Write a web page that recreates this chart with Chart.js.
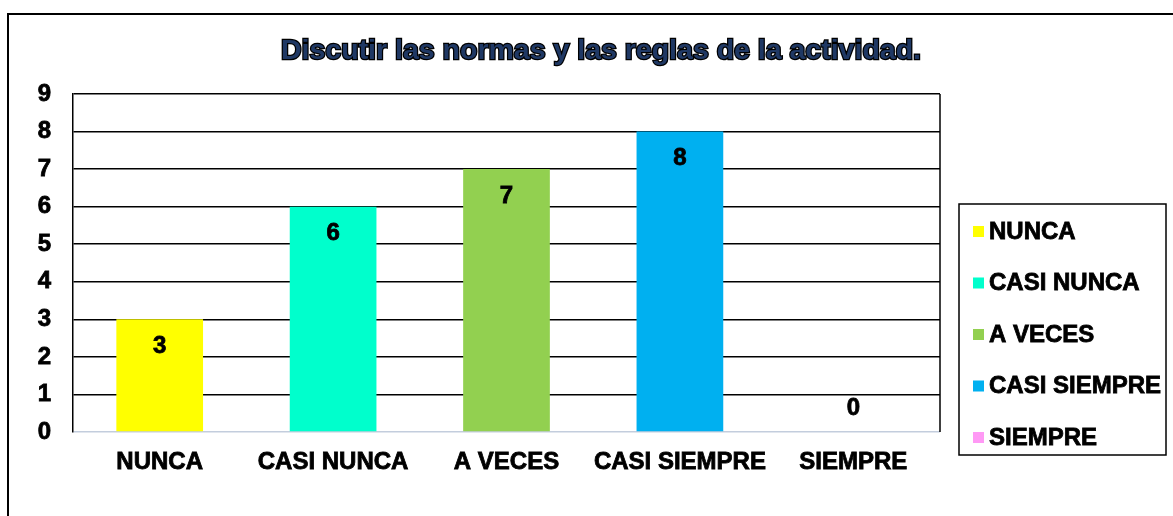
<!DOCTYPE html>
<html>
<head>
<meta charset="utf-8">
<script src="https://cdn.jsdelivr.net/npm/chart.js@4"></script>
<style>
  html, body { margin: 0; padding: 0; background: #fff; }
  #chart { display: block; }
</style>
</head>
<body>
<canvas id="chart" width="1173" height="516"></canvas>
<script>
// data
const chartTitle = 'Discutir las normas y las reglas de la actividad.';
const categories = ['NUNCA', 'CASI NUNCA', 'A VECES', 'CASI SIEMPRE', 'SIEMPRE'];
const values = [3, 6, 7, 8, 0];
const barColors = ['#FFFF00', '#00FFCC', '#92D050', '#00B0F0', '#FF99F5'];
const yMax = 9;

const FONT = '"Liberation Sans", Arial, sans-serif';

// frame, title, legend, value labels
const decorPlugin = {
  id: 'decor',
  beforeDraw(chart) {
    const ctx = chart.ctx;
    ctx.save();
    ctx.fillStyle = '#fff';
    ctx.fillRect(0, 0, chart.width, chart.height);
    ctx.strokeStyle = '#000';
    ctx.lineWidth = 2;
    ctx.beginPath();
    ctx.moveTo(8, chart.height + 5);
    ctx.lineTo(8, 14);
    ctx.lineTo(chart.width + 5, 14);
    ctx.stroke();
    ctx.restore();
  },
  afterDraw(chart) {
    const ctx = chart.ctx;
    const a = chart.chartArea;
    ctx.save();
    // right border of plot area
    ctx.strokeStyle = '#000';
    ctx.lineWidth = 1.5;
    ctx.beginPath();
    ctx.moveTo(a.right, a.top);
    ctx.lineTo(a.right, a.bottom);
    ctx.stroke();

    // title
    ctx.font = 'bold 28.5px ' + FONT;
    ctx.textAlign = 'center';
    ctx.textBaseline = 'middle';
    ctx.lineWidth = 2.5;
    ctx.strokeStyle = '#000';
    ctx.strokeText(chartTitle, 601, 51);
    ctx.fillStyle = '#1F3864';
    ctx.fillText(chartTitle, 601, 51);

    // legend box
    const lx = 959, ly = 204, lw = 207, lh = 251;
    ctx.lineWidth = 1.5;
    ctx.strokeRect(lx, ly, lw, lh);
    ctx.font = 'bold 24px ' + FONT;
    ctx.textAlign = 'left';
    ctx.lineWidth = 0.8;
    chart.data.labels.forEach((lab, i) => {
      const y = 231 + i * 51.5;
      ctx.fillStyle = chart.data.datasets[0].backgroundColor[i];
      ctx.fillRect(973, y - 5, 11, 11);
      ctx.fillStyle = '#000';
      ctx.fillText(lab, 989, y + 1);
      ctx.strokeText(lab, 989, y + 1);
    });
    ctx.restore();
  },
  afterDatasetsDraw(chart) {
    const ctx = chart.ctx;
    const meta = chart.getDatasetMeta(0);
    ctx.save();
    ctx.font = 'bold 24px ' + FONT;
    ctx.textAlign = 'center';
    ctx.textBaseline = 'middle';
    ctx.fillStyle = '#000';
    ctx.strokeStyle = '#000';
    ctx.lineWidth = 0.8;
    meta.data.forEach((bar, i) => {
      const v = chart.data.datasets[0].data[i];
      const y = v > 0 ? bar.y + 27 : bar.y - 24;
      ctx.fillText(String(v), bar.x, y);
      ctx.strokeText(String(v), bar.x, y);
    });
    ctx.restore();
  }
};

new Chart(document.getElementById('chart'), {
  type: 'bar',
  data: {
    labels: categories,
    datasets: [{
      data: values,
      backgroundColor: barColors,
      borderWidth: 0,
      barPercentage: 0.5,
      categoryPercentage: 1
    }]
  },
  options: {
    responsive: false,
    animation: false,
    layout: { padding: { top: 94, right: 233, left: 0, bottom: 0 } },
    plugins: {
      legend: { display: false },
      tooltip: { enabled: false },
      title: { display: false }
    },
    scales: {
      x: {
        grid: { display: false },
        border: { display: false },
        ticks: {
          color: '#000',
          font: { family: FONT, size: 24, weight: 'bold' },
          textStrokeColor: '#000',
          textStrokeWidth: 0.8,
          padding: 8,
          autoSkip: false,
          maxRotation: 0,
          minRotation: 0
        },
        afterFit(scale) { scale.height = 84; }
      },
      y: {
        min: 0,
        max: yMax,
        ticks: {
          stepSize: 1,
          color: '#000',
          font: { family: FONT, size: 24, weight: 'bold' },
          textStrokeColor: '#000',
          textStrokeWidth: 0.8,
          padding: 22
        },
        grid: {
          drawTicks: false,
          lineWidth: 1.5,
          color: (c) => c.tick && c.tick.value === 0 ? '#C3CDDD' : '#000'
        },
        border: { display: true, color: '#000', width: 1.5 },
        afterFit(scale) { scale.width = 73; }
      }
    }
  },
  plugins: [decorPlugin]
});
</script>
</body>
</html>
